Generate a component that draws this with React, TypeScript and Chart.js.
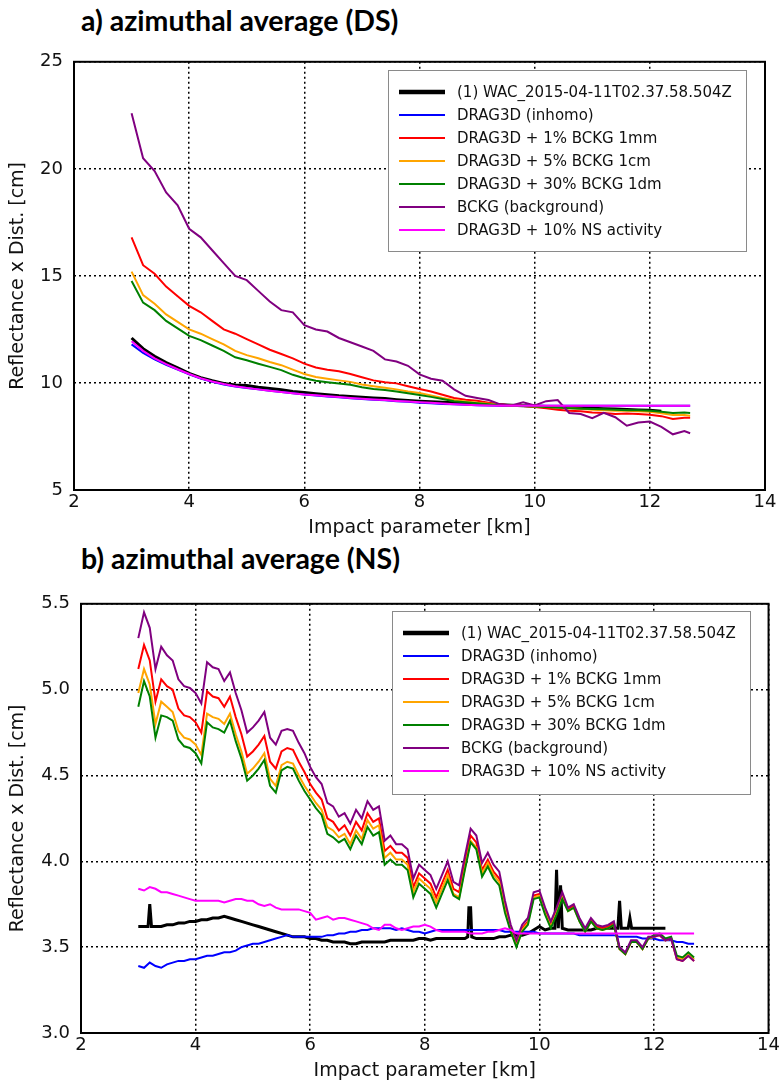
import React, { useEffect, useRef } from "react";
import { Chart, registerables } from "chart.js";
Chart.register(...registerables);

// ---------- labels / styles ----------
const seriesLabels = [
  "(1) WAC_2015-04-11T02.37.58.504Z",
  "DRAG3D (inhomo)",
  "DRAG3D + 1% BCKG 1mm",
  "DRAG3D + 5% BCKG 1cm",
  "DRAG3D + 30% BCKG 1dm",
  "BCKG (background)",
  "DRAG3D + 10% NS activity",
];
const seriesColors = ["#000000", "#0000ff", "#ff0000", "#ffa500", "#008000", "#800080", "#ff00ff"];
const seriesWidths = [3, 2, 2, 2, 2, 2, 2];
const legendSampleWidths = [4.5, 2, 2, 2, 2, 2, 2];

const xTicks = [2, 4, 6, 8, 10, 12, 14];
const topYTicks = [5, 10, 15, 20, 25];
const botYTicks = [3.0, 3.5, 4.0, 4.5, 5.0, 5.5];

// ---------- (a) DS data ----------
const topX = [3.0,3.2,3.4,3.6,3.8,4.0,4.2,4.4,4.6,4.8,5.0,5.2,5.4,5.6,5.8,6.0,6.2,6.4,6.6,6.8,7.0,7.2,7.4,7.6,7.8,8.0,8.2,8.4,8.6,8.8,9.0,9.2,9.4,9.6,9.8,10.0,10.2,10.4,10.6,10.8,11.0,11.2,11.4,11.6,11.8,12.0,12.2,12.4,12.6,12.7];
const topWac = [12.1,11.6,11.25,10.95,10.7,10.45,10.25,10.1,9.98,9.9,9.88,9.8,9.74,9.68,9.6,9.55,9.5,9.45,9.4,9.37,9.33,9.3,9.27,9.22,9.18,9.15,9.12,9.1,9.07,9.05,9.02,9.0,8.98,8.96,8.94,8.92,8.9,8.88,8.86,8.84,8.82,8.8,8.78,8.76,8.74,8.72,8.68];
const topInhomo = [11.8,11.4,11.1,10.85,10.62,10.4,10.2,10.05,9.93,9.83,9.76,9.7,9.64,9.58,9.52,9.46,9.41,9.37,9.33,9.29,9.25,9.22,9.19,9.15,9.12,9.08,9.05,9.02,9.0,8.98,8.96,8.95,8.94,8.93,8.93,8.93,8.93,8.93,8.93,8.93,8.93,8.93,8.93,8.93,8.93,8.93,8.93,8.93,8.93,8.93];
const topB1mm = [16.8,15.5,15.1,14.5,14.05,13.6,13.3,12.9,12.5,12.3,12.05,11.8,11.55,11.35,11.15,10.9,10.72,10.62,10.55,10.42,10.27,10.12,10.03,9.98,9.85,9.72,9.6,9.45,9.3,9.22,9.17,9.08,9.0,8.95,8.92,8.88,8.82,8.75,8.7,8.68,8.62,8.6,8.55,8.57,8.55,8.52,8.45,8.32,8.38,8.37];
const topB1cm = [15.2,14.1,13.7,13.2,12.85,12.5,12.3,12.05,11.8,11.5,11.3,11.15,10.98,10.83,10.62,10.42,10.28,10.2,10.12,10.05,9.93,9.85,9.78,9.7,9.6,9.53,9.42,9.3,9.2,9.13,9.08,9.03,8.98,8.95,8.93,8.9,8.88,8.85,8.82,8.8,8.75,8.73,8.7,8.7,8.68,8.65,8.58,8.5,8.5,8.47];
const topB1dm = [14.76,13.75,13.4,12.9,12.55,12.2,12.0,11.75,11.5,11.2,11.06,10.9,10.75,10.6,10.38,10.22,10.1,10.03,9.97,9.92,9.8,9.72,9.67,9.6,9.52,9.44,9.35,9.25,9.15,9.1,9.05,9.0,8.96,8.93,8.92,8.9,8.88,8.85,8.82,8.8,8.78,8.77,8.75,8.73,8.72,8.7,8.66,8.6,8.62,8.6];
const topBckg = [22.6,20.5,19.9,18.9,18.3,17.2,16.8,16.2,15.6,15.0,14.8,14.3,13.8,13.4,13.3,12.7,12.5,12.4,12.1,11.9,11.7,11.5,11.1,11.0,10.8,10.4,10.2,10.1,9.7,9.4,9.3,9.2,9.0,8.95,9.1,8.95,9.15,9.2,8.6,8.55,8.35,8.6,8.4,8.0,8.15,8.2,7.95,7.6,7.75,7.65];
const topNs = [11.95,11.5,11.15,10.88,10.64,10.42,10.22,10.07,9.95,9.85,9.77,9.7,9.64,9.58,9.52,9.46,9.42,9.38,9.34,9.3,9.26,9.23,9.2,9.16,9.13,9.1,9.07,9.04,9.01,8.98,8.96,8.95,8.94,8.93,8.93,8.93,8.93,8.93,8.93,8.93,8.93,8.93,8.93,8.93,8.93,8.93,8.93,8.93,8.93,8.93];

// ---------- (b) NS data ----------
const botX = [3.0,3.1,3.2,3.3,3.4,3.5,3.6,3.7,3.8,3.9,4.0,4.1,4.2,4.3,4.4,4.5,4.6,4.7,4.8,4.9,5.0,5.1,5.2,5.3,5.4,5.5,5.6,5.7,5.8,5.9,6.0,6.1,6.2,6.3,6.4,6.5,6.6,6.7,6.8,6.9,7.0,7.1,7.2,7.3,7.4,7.5,7.6,7.7,7.8,7.9,8.0,8.1,8.2,8.3,8.4,8.5,8.6,8.7,8.8,8.9,9.0,9.1,9.2,9.3,9.4,9.5,9.6,9.7,9.8,9.9,10.0,10.1,10.2,10.3,10.4,10.5,10.6,10.7,10.8,10.9,11.0,11.1,11.2,11.3,11.4,11.5,11.6,11.7,11.8,11.9,12.0,12.1,12.2,12.3,12.4,12.5,12.6,12.7];
const botWacX = [3.0,3.1,3.17,3.2,3.23,3.3,3.4,3.5,3.6,3.7,3.8,3.9,4.0,4.1,4.2,4.3,4.4,4.5,4.6,4.7,4.8,4.9,5.0,5.1,5.2,5.3,5.4,5.5,5.6,5.7,5.8,5.9,6.0,6.1,6.2,6.3,6.4,6.5,6.6,6.7,6.8,6.9,7.0,7.1,7.2,7.3,7.4,7.5,7.6,7.7,7.8,7.9,8.0,8.1,8.2,8.3,8.4,8.5,8.6,8.7,8.75,8.77,8.8,8.82,8.9,9.0,9.1,9.2,9.3,9.4,9.5,9.6,9.7,9.8,9.9,10.0,10.1,10.2,10.27,10.3,10.33,10.37,10.4,10.5,10.6,10.7,10.8,10.9,11.0,11.1,11.2,11.3,11.37,11.4,11.43,11.55,11.58,11.61,11.7,11.8,11.9,12.0,12.1,12.2];
const botWac = [3.62,3.62,3.62,3.75,3.62,3.62,3.62,3.63,3.63,3.64,3.64,3.65,3.65,3.66,3.66,3.67,3.67,3.68,3.67,3.66,3.65,3.64,3.63,3.62,3.61,3.6,3.59,3.58,3.57,3.56,3.56,3.56,3.55,3.55,3.54,3.54,3.53,3.53,3.53,3.52,3.52,3.53,3.53,3.53,3.53,3.53,3.54,3.54,3.54,3.54,3.54,3.55,3.55,3.54,3.55,3.55,3.55,3.55,3.55,3.55,3.56,3.73,3.73,3.56,3.55,3.55,3.55,3.55,3.56,3.56,3.57,3.57,3.57,3.58,3.6,3.62,3.6,3.61,3.61,3.95,3.61,3.86,3.61,3.6,3.6,3.6,3.6,3.6,3.61,3.61,3.61,3.61,3.61,3.77,3.61,3.61,3.67,3.61,3.61,3.61,3.61,3.61,3.61,3.61];
const botInhomo = [3.39,3.38,3.41,3.39,3.38,3.4,3.41,3.42,3.42,3.43,3.43,3.44,3.45,3.45,3.46,3.47,3.47,3.48,3.5,3.51,3.52,3.52,3.53,3.54,3.55,3.56,3.57,3.56,3.56,3.56,3.56,3.56,3.56,3.57,3.57,3.58,3.58,3.59,3.59,3.6,3.6,3.61,3.61,3.61,3.61,3.6,3.61,3.6,3.59,3.59,3.58,3.59,3.6,3.6,3.6,3.6,3.6,3.6,3.6,3.6,3.6,3.6,3.6,3.6,3.59,3.59,3.59,3.59,3.59,3.59,3.58,3.58,3.58,3.58,3.58,3.58,3.58,3.57,3.57,3.57,3.57,3.57,3.57,3.57,3.56,3.56,3.56,3.56,3.55,3.55,3.55,3.54,3.54,3.54,3.53,3.53,3.52,3.52];
const botB1mm = [5.12,5.26,5.17,4.93,5.06,5.02,5.0,4.89,4.85,4.84,4.81,4.75,4.99,4.96,4.95,4.9,4.96,4.84,4.74,4.61,4.64,4.68,4.73,4.58,4.54,4.64,4.66,4.65,4.58,4.52,4.45,4.4,4.36,4.25,4.23,4.18,4.21,4.15,4.23,4.18,4.28,4.23,4.25,4.06,4.09,4.05,4.05,4.02,3.85,3.93,3.9,3.87,3.79,3.87,3.95,3.84,3.82,3.99,4.15,4.11,3.95,4.01,3.94,3.9,3.74,3.61,3.52,3.61,3.65,3.8,3.81,3.71,3.63,3.71,3.8,3.72,3.74,3.66,3.6,3.66,3.62,3.61,3.62,3.64,3.49,3.46,3.53,3.53,3.49,3.55,3.56,3.57,3.54,3.55,3.43,3.42,3.45,3.42];
const botB1cm = [4.98,5.12,5.03,4.8,4.93,4.9,4.87,4.76,4.72,4.71,4.68,4.62,4.86,4.84,4.83,4.8,4.86,4.74,4.64,4.51,4.54,4.58,4.63,4.48,4.44,4.56,4.58,4.57,4.5,4.44,4.39,4.34,4.3,4.2,4.18,4.14,4.16,4.1,4.18,4.13,4.24,4.19,4.21,4.02,4.05,4.01,4.01,3.98,3.82,3.9,3.87,3.84,3.76,3.84,3.92,3.81,3.79,3.96,4.12,4.08,3.93,3.99,3.92,3.88,3.72,3.6,3.51,3.6,3.64,3.79,3.8,3.7,3.62,3.7,3.79,3.71,3.73,3.65,3.59,3.65,3.61,3.6,3.61,3.63,3.49,3.46,3.53,3.53,3.49,3.55,3.56,3.57,3.54,3.55,3.44,3.43,3.46,3.43];
const botB1dm = [4.9,5.05,4.96,4.72,4.85,4.84,4.82,4.71,4.67,4.66,4.63,4.57,4.81,4.78,4.77,4.75,4.82,4.7,4.6,4.47,4.5,4.54,4.59,4.44,4.4,4.53,4.55,4.54,4.47,4.41,4.36,4.31,4.27,4.16,4.14,4.11,4.13,4.07,4.15,4.1,4.2,4.15,4.17,3.98,4.01,3.98,3.98,3.95,3.79,3.87,3.84,3.81,3.73,3.81,3.89,3.8,3.78,3.95,4.11,4.07,3.91,3.97,3.9,3.86,3.7,3.59,3.5,3.59,3.63,3.78,3.79,3.69,3.61,3.69,3.78,3.71,3.73,3.65,3.59,3.65,3.61,3.6,3.61,3.63,3.49,3.46,3.53,3.53,3.49,3.55,3.57,3.58,3.55,3.56,3.45,3.44,3.47,3.44];
const botBckg = [5.3,5.45,5.36,5.12,5.25,5.2,5.17,5.06,5.02,5.01,4.98,4.92,5.16,5.13,5.12,5.05,5.1,4.98,4.88,4.75,4.78,4.82,4.87,4.72,4.68,4.76,4.77,4.76,4.69,4.63,4.55,4.49,4.45,4.34,4.32,4.26,4.28,4.22,4.3,4.25,4.35,4.3,4.32,4.12,4.15,4.1,4.1,4.07,3.9,3.98,3.95,3.92,3.84,3.92,4.0,3.88,3.86,4.03,4.19,4.15,3.99,4.05,3.98,3.94,3.77,3.63,3.54,3.63,3.67,3.82,3.83,3.73,3.65,3.73,3.82,3.73,3.75,3.67,3.61,3.67,3.63,3.62,3.63,3.65,3.5,3.47,3.54,3.54,3.5,3.56,3.56,3.57,3.54,3.55,3.43,3.42,3.45,3.42];
const botNs = [3.84,3.83,3.85,3.84,3.82,3.82,3.81,3.8,3.79,3.78,3.77,3.77,3.77,3.77,3.77,3.76,3.77,3.78,3.78,3.77,3.77,3.75,3.74,3.75,3.73,3.72,3.72,3.72,3.72,3.71,3.7,3.66,3.67,3.68,3.66,3.67,3.67,3.66,3.65,3.64,3.63,3.61,3.6,3.63,3.63,3.61,3.6,3.61,3.62,3.62,3.63,3.62,3.6,3.59,3.59,3.59,3.59,3.59,3.58,3.58,3.58,3.59,3.59,3.6,3.61,3.6,3.58,3.58,3.58,3.58,3.58,3.58,3.58,3.58,3.58,3.58,3.58,3.58,3.58,3.58,3.58,3.58,3.58,3.58,3.58,3.58,3.58,3.58,3.58,3.58,3.58,3.58,3.58,3.58,3.58,3.58,3.58,3.58];

const FONT = "DejaVu Sans";
const TEXT = "#111111";

function pts(xs: number[], ys: number[]) {
  return ys.map((y, i) => ({ x: xs[i], y }));
}

function makeDatasets(series: { xs: number[]; ys: number[] }[]) {
  return series.map((s, i) => ({
    label: seriesLabels[i],
    data: pts(s.xs, s.ys),
    borderColor: seriesColors[i],
    backgroundColor: seriesColors[i],
    borderWidth: seriesWidths[i],
    pointRadius: 0,
    tension: 0,
    fill: false,
    order: seriesLabels.length - i,
  }));
}

function frameLegendPlugin(boxTop: number, boxH: number) {
  return {
    id: "frameLegend",
    afterDatasetsDraw(chart: any) {
      const { ctx, chartArea: a } = chart;
      ctx.save();
      const w = 358;
      const left = Math.round(a.right - 19 - w);
      const top = Math.round(a.top + boxTop);
      ctx.fillStyle = "#ffffff";
      ctx.fillRect(left, top, w, boxH);
      ctx.strokeStyle = "#8a8a8a";
      ctx.lineWidth = 1;
      ctx.strokeRect(left + 0.5, top + 0.5, w, boxH);
      ctx.font = `15px "${FONT}"`;
      ctx.textBaseline = "middle";
      seriesLabels.forEach((lab, i) => {
        const y = top + 22 + i * 23;
        ctx.strokeStyle = seriesColors[i];
        ctx.lineWidth = legendSampleWidths[i];
        ctx.beginPath();
        ctx.moveTo(left + 11, y);
        ctx.lineTo(left + 57, y);
        ctx.stroke();
        ctx.fillStyle = TEXT;
        ctx.fillText(lab, left + 69, y + 1);
      });
      ctx.strokeStyle = "#000";
      ctx.lineWidth = 2;
      ctx.strokeRect(a.left, a.top, a.right - a.left, a.bottom - a.top);
      ctx.restore();
    },
  };
}

function baseOptions(p: {
  yMin: number; yMax: number; yTicks: number[]; yWidth: number;
  padTop: number; padRight: number; padBottom: number; decimals: number;
}) {
  const gridStyle = { color: "#000", lineWidth: 1.5, drawTicks: false };
  const borderStyle = { display: false, dash: [2, 3] };
  return {
    responsive: false,
    animation: false as const,
    events: [],
    layout: { padding: { top: p.padTop, right: p.padRight, left: 0, bottom: p.padBottom } },
    plugins: { legend: { display: false }, tooltip: { enabled: false } },
    scales: {
      x: {
        type: "linear" as const,
        min: 2,
        max: 14,
        afterBuildTicks: (s: any) => { s.ticks = xTicks.map((v) => ({ value: v })); },
        ticks: { font: { family: FONT, size: 18 }, color: TEXT, padding: 2, maxRotation: 0 },
        grid: gridStyle,
        border: borderStyle,
        title: { display: true, text: "Impact parameter [km]", color: TEXT, font: { family: FONT, size: 19 }, padding: { top: 0, bottom: 0 } },
        afterFit: (s: any) => { s.height = 49; },
      },
      y: {
        type: "linear" as const,
        min: p.yMin,
        max: p.yMax,
        afterBuildTicks: (s: any) => { s.ticks = p.yTicks.map((v) => ({ value: v })); },
        ticks: {
          font: { family: FONT, size: 18 }, color: TEXT, padding: 11,
          callback: (v: any) => Number(v).toFixed(p.decimals),
        },
        grid: gridStyle,
        border: borderStyle,
        title: { display: true, text: "Reflectance x Dist. [cm]", color: TEXT, font: { family: FONT, size: 19 }, padding: { top: 7, bottom: 0 } },
        afterFit: (s: any) => { s.width = p.yWidth; },
      },
    },
  };
}

export default function App() {
  const ref1 = useRef<HTMLCanvasElement>(null);
  const ref2 = useRef<HTMLCanvasElement>(null);

  useEffect(() => {
    const c1 = new Chart(ref1.current!, {
      type: "line",
      data: {
        datasets: makeDatasets([
          { xs: topX, ys: topWac },
          { xs: topX, ys: topInhomo },
          { xs: topX, ys: topB1mm },
          { xs: topX, ys: topB1cm },
          { xs: topX, ys: topB1dm },
          { xs: topX, ys: topBckg },
          { xs: topX, ys: topNs },
        ]) as any,
      },
      options: baseOptions({ yMin: 5, yMax: 25, yTicks: topYTicks, yWidth: 74, padTop: 13, padRight: 17, padBottom: 1, decimals: 0 }) as any,
      plugins: [frameLegendPlugin(8, 181)],
    });
    const c2 = new Chart(ref2.current!, {
      type: "line",
      data: {
        datasets: makeDatasets([
          { xs: botWacX, ys: botWac },
          { xs: botX, ys: botInhomo },
          { xs: botX, ys: botB1mm },
          { xs: botX, ys: botB1cm },
          { xs: botX, ys: botB1dm },
          { xs: botX, ys: botBckg },
          { xs: botX, ys: botNs },
        ]) as any,
      },
      options: baseOptions({ yMin: 3, yMax: 5.5, yTicks: botYTicks, yWidth: 81, padTop: 15, padRight: 11, padBottom: 1, decimals: 1 }) as any,
      plugins: [frameLegendPlugin(7, 183)],
    });
    return () => { c1.destroy(); c2.destroy(); };
  }, []);

  const titleStyle: React.CSSProperties = {
    position: "absolute",
    left: 81,
    fontFamily: "Lato, 'Open Sans', sans-serif",
    fontWeight: 700,
    fontSize: 28.5,
    lineHeight: "28px",
    color: "#000",
    whiteSpace: "nowrap",
  };

  return (
    <div style={{ position: "absolute", left: 0, top: 0, width: 782, height: 1083, background: "#fff", overflow: "hidden" }}>
      <div style={{ ...titleStyle, top: 6 }}>a) azimuthal average (DS)</div>
      <canvas ref={ref1} width={782} height={500} style={{ position: "absolute", left: 0, top: 40, display: "block" }} />
      <div style={{ ...titleStyle, top: 544 }}>b) azimuthal average (NS)</div>
      <canvas ref={ref2} width={782} height={501} style={{ position: "absolute", left: 0, top: 582, display: "block" }} />
    </div>
  );
}
